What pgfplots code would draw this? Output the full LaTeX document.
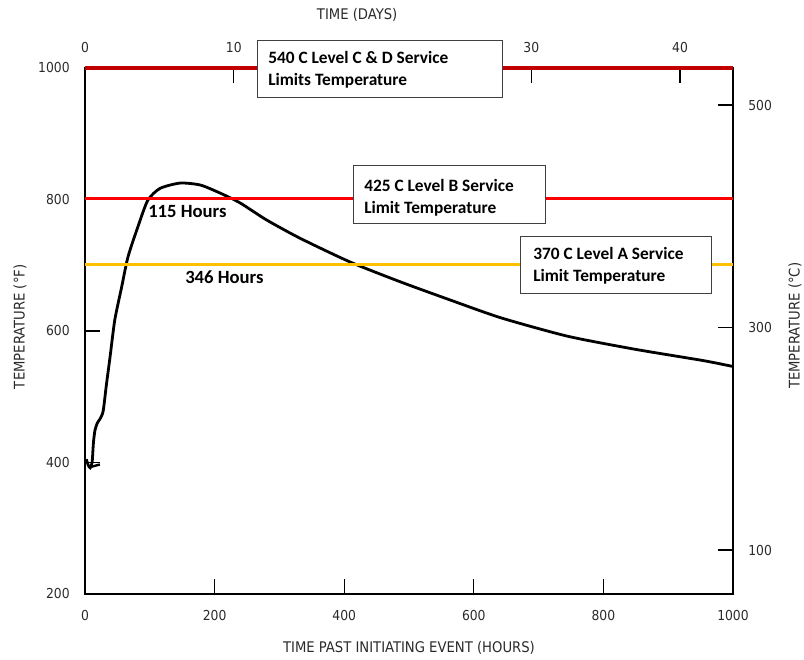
\documentclass[border=0pt]{standalone}
\usepackage{pgfplots}
\pgfplotsset{compat=1.18}
\usepackage{fontspec}
\setmainfont{Carlito}
\newfontfamily\cond{DejaVu Sans Condensed}
\definecolor{dred}{HTML}{C00000}
\definecolor{bred}{HTML}{FF0000}
\definecolor{gold}{HTML}{FFC000}
\definecolor{ink}{HTML}{2A2A2A}
\pgfplotsset{
 base/.style={scale only axis, width=486pt, height=394.5pt,
   tick align=inside, major tick length=11pt,
   tick style={black,line width=0.9pt},
   /pgf/number format/assume math mode=true,
   /pgf/number format/1000 sep={},
   ticklabel style={font=\cond\fontsize{10.3}{12}\selectfont, text=ink}},
}
\begin{document}
\begin{tikzpicture}
\path[use as bounding box] (-63.75pt,-49.5pt) rectangle (539.25pt,445.5pt);
% top axis (days)
\begin{axis}[base, xmin=0, xmax=43.56, ymin=0, ymax=1, hide y axis,
  axis line style={draw=none}, xtick={0,10,20,30,40}, xticklabels={0,10,,30,40},
  xtick pos=right, xticklabel pos=right, xticklabel style={yshift=8pt}]
\addplot[draw=none] coordinates {(0,0)};
\end{axis}
% right axis (deg C)
\begin{axis}[base, xmin=0, xmax=1000, ymin=60.45, ymax=533.3, hide x axis,
  axis line style={draw=none}, ytick={100,300,500},
  ytick pos=right, yticklabel pos=right, yticklabel style={xshift=8pt}]
\addplot[draw=none] coordinates {(0,100)};
\end{axis}
% main axis
\begin{axis}[base, xmin=0, xmax=1000, ymin=200, ymax=1000,
  xtick={0,200,...,1000}, ytick={200,400,...,1000},
  xtick pos=left, ytick pos=left,
  axis line style={black, line width=1.2pt},
  xticklabel style={yshift=-9pt}, yticklabel style={xshift=-8pt},
  clip=false]
\addplot[black, line width=2.1pt, smooth, tension=0.4] coordinates {
(2,405)(5,396)(8,392)(11,400)(13,430)(15.4,449)(19,460)(23,466)(28,478)(33,518)(38.6,560)(46,617)(56.6,667)(66.4,713)(81.8,759)(97,799)(116,817)(147,825)(178,822)(208,810)(239,795)(280,769)(332,741)(409,705)(486,675)(564,647)(642,620)(745,592)(850,572)(954,555)(1000,546)};
\addplot[black, line width=1.8pt] coordinates {(8,393)(23,397)};
\addplot[dred, line width=2.4pt] coordinates {(0,1000)(1000,1000)};
\addplot[bred, line width=2.5pt] coordinates {(0,801.5)(1000,801.5)};
\addplot[gold, line width=2.5pt] coordinates {(0,701.5)(1000,701.5)};
\draw[fill=white, draw=black!75, line width=0.7pt] (axis cs:265.4,1042.6) rectangle (axis cs:643.5,955.9);
\draw[fill=white, draw=black!75, line width=0.7pt] (axis cs:413.6,851) rectangle (axis cs:709.9,764.3);
\draw[fill=white, draw=black!75, line width=0.7pt] (axis cs:671.3,744.5) rectangle (axis cs:966,657.8);
\tikzset{bx/.style={anchor=west, inner sep=0pt, font=\bfseries\fontsize{13}{15}\selectfont, text=black}}
\node[bx] at (axis cs:282.4,1016.7) {540 C Level C \& D Service};
\node[bx] at (axis cs:282.4,980.2) {Limits Temperature};
\node[bx] at (axis cs:430.6,822.05) {425 C Level B Service};
\node[bx] at (axis cs:430.6,785.6) {Limit Temperature};
\node[bx] at (axis cs:691.4,718.6) {370 C Level A Service};
\node[bx] at (axis cs:691.4,682.1) {Limit Temperature};
\tikzset{hr/.style={anchor=west, inner sep=0pt, font=\bfseries\fontsize{14}{16}\selectfont, text=black}}
\node[hr] at (axis cs:97.2,781) {115 Hours};
\node[hr] at (axis cs:154.3,682.1) {346 Hours};
\tikzset{lab/.style={font=\cond\fontsize{11}{13}\selectfont, text=ink}}
\node[lab] at ([yshift=-40.5pt]rel axis cs:0.5,0) {TIME PAST INITIATING EVENT (HOURS)};
\node[lab] at ([yshift=39.75pt]rel axis cs:0.42,1) {TIME (DAYS)};
\node[lab, rotate=90] at ([xshift=-48.75pt]rel axis cs:0,0.508) {TEMPERATURE (°F)};
\node[lab, rotate=90] at ([xshift=46.5pt]rel axis cs:1,0.51) {TEMPERATURE (°C)};
\end{axis}
\end{tikzpicture}
\end{document}
